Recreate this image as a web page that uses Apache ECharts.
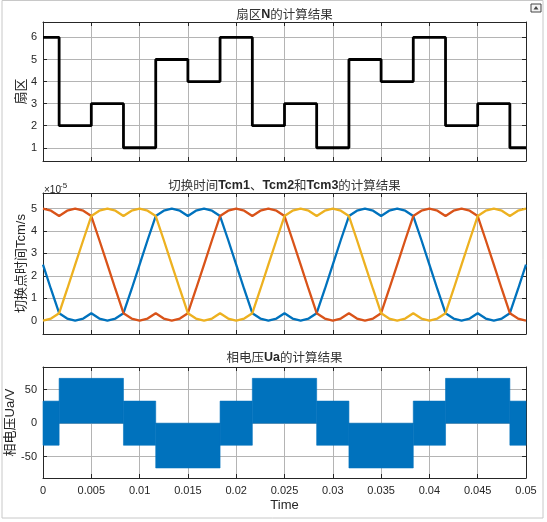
<!DOCTYPE html>
<html>
<head>
<meta charset="utf-8">
<script src="https://cdn.jsdelivr.net/npm/echarts@6/dist/echarts.min.js"></script>
<style>
  html, body { margin: 0; padding: 0; background: #fff; }
  #main { width: 547px; height: 522px; }
</style>
</head>
<body>
<div id="main"></div>
<script>
// sector N (step), edges of each sector in seconds
var sectorEdges = [0, 0.00167, 0.005, 0.00833, 0.01167, 0.015, 0.01833, 0.02167, 0.025,
                   0.02833, 0.03167, 0.035, 0.03833, 0.04167, 0.045, 0.04833, 0.05];
var sectorN = [6, 2, 3, 1, 5, 4, 6, 2, 3, 1, 5, 4, 6, 2, 3, 1];

// Tcm1/Tcm2/Tcm3 (units of 1e-5 s)
var tcmTime = [0, 0.00083, 0.00167, 0.0025, 0.00333, 0.00417, 0.005, 0.00583, 0.00667, 0.0075,
  0.00833, 0.00917, 0.01, 0.01083, 0.01167, 0.0125, 0.01333, 0.01417, 0.015, 0.01583,
  0.01667, 0.0175, 0.01833, 0.01917, 0.02, 0.02083, 0.02167, 0.0225, 0.02333, 0.02417,
  0.025, 0.02583, 0.02667, 0.0275, 0.02833, 0.02917, 0.03, 0.03083, 0.03167, 0.0325,
  0.03333, 0.03417, 0.035, 0.03583, 0.03667, 0.0375, 0.03833, 0.03917, 0.04, 0.04083,
  0.04167, 0.0425, 0.04333, 0.04417, 0.045, 0.04583, 0.04667, 0.0475, 0.04833, 0.04917, 0.05];
var tcm1 = [2.5, 1.4, 0.33, 0.09, 0, 0.09, 0.33, 0.09, 0, 0.09, 0.33, 1.4, 2.5, 3.6, 4.67, 4.91, 5, 4.91, 4.67, 4.91, 5, 4.91, 4.67, 3.6,
  2.5, 1.4, 0.33, 0.09, 0, 0.09, 0.33, 0.09, 0, 0.09, 0.33, 1.4, 2.5, 3.6, 4.67, 4.91, 5, 4.91, 4.67, 4.91, 5, 4.91, 4.67, 3.6,
  2.5, 1.4, 0.33, 0.09, 0, 0.09, 0.33, 0.09, 0, 0.09, 0.33, 1.4, 2.5];
var tcm2 = [5, 4.91, 4.67, 4.91, 5, 4.91, 4.67, 3.6, 2.5, 1.4, 0.33, 0.09, 0, 0.09, 0.33, 0.09, 0, 0.09, 0.33, 1.4, 2.5, 3.6, 4.67, 4.91,
  5, 4.91, 4.67, 4.91, 5, 4.91, 4.67, 3.6, 2.5, 1.4, 0.33, 0.09, 0, 0.09, 0.33, 0.09, 0, 0.09, 0.33, 1.4, 2.5, 3.6, 4.67, 4.91,
  5, 4.91, 4.67, 4.91, 5, 4.91, 4.67, 3.6, 2.5, 1.4, 0.33, 0.09, 0];
var tcm3 = [0, 0.09, 0.33, 1.4, 2.5, 3.6, 4.67, 4.91, 5, 4.91, 4.67, 4.91, 5, 4.91, 4.67, 3.6, 2.5, 1.4, 0.33, 0.09, 0, 0.09, 0.33, 0.09,
  0, 0.09, 0.33, 1.4, 2.5, 3.6, 4.67, 4.91, 5, 4.91, 4.67, 4.91, 5, 4.91, 4.67, 3.6, 2.5, 1.4, 0.33, 0.09, 0, 0.09, 0.33, 0.09,
  0, 0.09, 0.33, 1.4, 2.5, 3.6, 4.67, 4.91, 5, 4.91, 4.67, 4.91, 5];

// phase voltage Ua: PWM band per sector (low / high edge, V)
var uaLow  = [-33, 0, 0, -33, -67, -67, -33, 0, 0, -33, -67, -67, -33, 0, 0, -33];
var uaHigh = [33, 67, 67, 33, 0, 0, 33, 67, 67, 33, 0, 0, 33, 67, 67, 33];

var titles = ['扇区N的计算结果', '切换时间Tcm1、Tcm2和Tcm3的计算结果', '相电压Ua的计算结果'];
var yNames = ['扇区', '切换点时间Tcm/s', '相电压Ua/V'];

var sectorData = [];
for (var i = 0; i < sectorN.length; i++) sectorData.push([sectorEdges[i], sectorN[i]]);
sectorData.push([sectorEdges[sectorEdges.length - 1], sectorN[sectorN.length - 1]]);

function pairs(ys) {
  var out = [];
  for (var i = 0; i < ys.length; i++) out.push([tcmTime[i], ys[i]]);
  return out;
}

// merge neighbouring sectors with the same band so no seams show
var uaData = [];
for (var j = 0; j < uaLow.length; j++) {
  var last = uaData[uaData.length - 1];
  if (last && last[2] === uaLow[j] && last[3] === uaHigh[j]) last[1] = sectorEdges[j + 1];
  else uaData.push([sectorEdges[j], sectorEdges[j + 1], uaLow[j], uaHigh[j]]);
}

var axisColor = '#262626';
var gridColor = '#b4b4b4';
var latin = '"Liberation Sans", Arial, sans-serif';
var cjk = '"Liberation Sans", "Noto Sans CJK SC", sans-serif';

// rich title: latin runs bold, chinese normal
function richTitle(s) {
  return s.replace(/([A-Za-z0-9]+)/g, '}{b|$1}{c|').replace(/^/, '{c|') + '}';
}

var grids = [
  { left: 43, right: 21, top: 22, height: 139, outerBoundsMode: 'none' },
  { left: 43, right: 21, top: 193, height: 141, outerBoundsMode: 'none' },
  { left: 43, right: 21, top: 367, height: 111, outerBoundsMode: 'none' }
];
var yRange = [[0.4, 6.7, 1], [-0.6, 5.7, 1], [-82, 84, 50]];
var nameGaps = [15, 15, 26];

var xAxes = [], yAxes = [];
for (var g = 0; g < 3; g++) {
  xAxes.push({
    gridIndex: g, type: 'value', min: 0, max: 0.05, interval: 0.005,
    axisLine: { onZero: false, lineStyle: { color: axisColor, width: 1 } },
    axisTick: { inside: true, length: 4, lineStyle: { color: axisColor } },
    axisLabel: {
      show: g === 2, color: axisColor, fontSize: 11, fontFamily: latin, margin: 7,
      formatter: function (v) { return String(+v.toFixed(3)); }
    },
    splitLine: { show: true, lineStyle: { color: gridColor, width: 1 } },
    name: g === 2 ? 'Time' : '', nameLocation: 'middle', nameGap: 21, nameMoveOverlap: false,
    nameTextStyle: { color: axisColor, fontSize: 13, fontFamily: latin }
  });
  xAxes.push({
    gridIndex: g, type: 'value', position: 'top', min: 0, max: 0.05, interval: 0.005,
    axisLine: { onZero: false, lineStyle: { color: axisColor, width: 1 } },
    axisTick: { inside: true, length: 4, lineStyle: { color: axisColor } },
    axisLabel: { show: false }, splitLine: { show: false }
  });
  yAxes.push({
    gridIndex: g, type: 'value', min: yRange[g][0], max: yRange[g][1],
    minInterval: yRange[g][2], maxInterval: yRange[g][2],
    axisLine: { show: true, onZero: false, lineStyle: { color: axisColor, width: 1 } },
    axisTick: { show: true, inside: true, length: 4, lineStyle: { color: axisColor } },
    axisLabel: { color: axisColor, fontSize: 11, fontFamily: latin, margin: 6, showMinLabel: false, showMaxLabel: false },
    splitLine: { show: true, lineStyle: { color: gridColor, width: 1 } },
    name: yNames[g], nameLocation: 'middle', nameGap: nameGaps[g], nameRotate: 90, nameMoveOverlap: false,
    nameTextStyle: { color: axisColor, fontSize: 13, fontFamily: cjk }
  });
  yAxes.push({
    gridIndex: g, type: 'value', position: 'right', min: yRange[g][0], max: yRange[g][1],
    minInterval: yRange[g][2], maxInterval: yRange[g][2],
    axisLine: { show: true, onZero: false, lineStyle: { color: axisColor, width: 1 } },
    axisTick: { show: true, inside: true, length: 4, lineStyle: { color: axisColor } },
    axisLabel: { show: false }, splitLine: { show: false }
  });
}

var titleOpts = [];
var titleTops = [8, 179, 351];
for (var t = 0; t < 3; t++) {
  titleOpts.push({
    text: richTitle(titles[t]), left: 284.5, top: titleTops[t], textAlign: 'center', padding: 0,
    textStyle: {
      rich: {
        c: { fontSize: 12.5, color: '#333', fontFamily: '"Noto Sans CJK SC", sans-serif', fontWeight: 'normal' },
        b: { fontSize: 12.5, color: '#262626', fontFamily: latin, fontWeight: 'bold' }
      }
    }
  });
}

var option = {
  backgroundColor: '#fff',
  animation: false,
  title: titleOpts,
  grid: grids,
  xAxis: xAxes,
  yAxis: yAxes,
  series: [
    {
      name: 'N', type: 'line', xAxisIndex: 0, yAxisIndex: 0, step: 'end',
      data: sectorData, showSymbol: false,
      lineStyle: { color: '#000', width: 2.8 }
    },
    {
      name: 'Tcm1', type: 'line', xAxisIndex: 2, yAxisIndex: 2, data: pairs(tcm1), showSymbol: false,
      lineStyle: { color: '#0072BD', width: 2.3 }
    },
    {
      name: 'Tcm2', type: 'line', xAxisIndex: 2, yAxisIndex: 2, data: pairs(tcm2), showSymbol: false,
      lineStyle: { color: '#D95319', width: 2.3 }
    },
    {
      name: 'Tcm3', type: 'line', xAxisIndex: 2, yAxisIndex: 2, data: pairs(tcm3), showSymbol: false,
      lineStyle: { color: '#EDB120', width: 2.3 }
    },
    {
      name: 'Ua', type: 'custom', xAxisIndex: 4, yAxisIndex: 4, data: uaData,
      encode: { x: [0, 1], y: [2, 3] },
      renderItem: function (params, api) {
        var p0 = api.coord([api.value(0), api.value(3)]);
        var p1 = api.coord([api.value(1), api.value(2)]);
        return {
          type: 'rect',
          shape: { x: p0[0], y: p0[1], width: p1[0] - p0[0], height: p1[1] - p0[1] },
          style: { fill: '#0072BD', stroke: '#0072BD', lineWidth: 0.6 }
        };
      }
    }
  ],
  graphic: [
    { type: 'rect', shape: { x: 2, y: 0.5, width: 541, height: 517.5 }, style: { fill: null, stroke: '#c8c8c8', lineWidth: 1 }, silent: true },
    { type: 'text', x: 44, y: 190, style: { text: '×10', fontSize: 10, fill: axisColor, fontFamily: latin, verticalAlign: 'middle' } },
    { type: 'text', x: 60, y: 186, style: { text: '-5', fontSize: 8, fill: axisColor, fontFamily: latin, verticalAlign: 'middle' } },
    { type: 'rect', shape: { x: 531, y: 4, width: 10, height: 8 }, style: { fill: '#f4f4f4', stroke: '#444', lineWidth: 1 } },
    { type: 'polygon', shape: { points: [[533.5, 9.5], [536, 6], [538.5, 9.5]] }, style: { fill: '#444' } }
  ]
};

var chart = echarts.init(document.getElementById('main'));
chart.setOption(option);
</script>
</body>
</html>
